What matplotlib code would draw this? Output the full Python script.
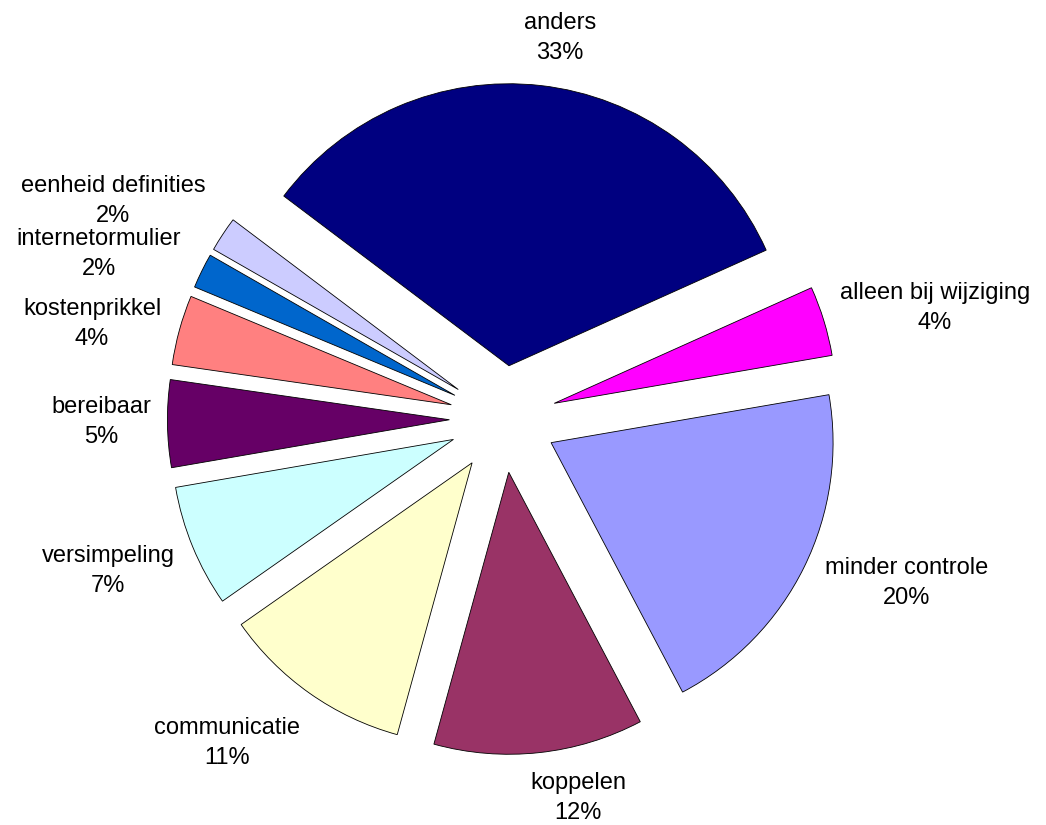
import matplotlib
matplotlib.use("Agg")
import matplotlib.pyplot as plt

# Categories in clockwise order, starting from the large "anders" slice
categories = [
    "anders", "alleen bij wijziging", "minder controle", "koppelen",
    "communicatie", "versimpeling", "bereibaar", "kostenprikkel",
    "internetormulier", "eenheid definities",
]
percentages = [33, 4, 20, 12, 11, 7, 5, 4, 2, 2]
colors = [
    "#000080", "#FF00FF", "#9999FF", "#993366", "#FFFFCC",
    "#CCFFFF", "#660066", "#FF8080", "#0066CC", "#CCCCFF",
]

# Label anchor points (pixel coordinates from the top-left corner)
label_xy = [
    (560, 38), (935, 308), (907, 583), (578, 798), (227, 743),
    (108, 571), (101, 422), (92, 324), (99, 254), (113, 201),
]

W, H = 1046, 825
cx, cy = 503, 419      # pie centre in pixels
r_px = 282             # pie radius in pixels

plt.rcParams["font.family"] = ["Liberation Sans", "DejaVu Sans"]

fig = plt.figure(figsize=(W / 100, H / 100), dpi=100)
ax = fig.add_axes([0, 0, 1, 1])

ax.pie(
    percentages,
    colors=colors,
    startangle=143,
    counterclock=False,
    explode=[0.19] * len(percentages),
    radius=1.0,
    wedgeprops=dict(edgecolor="black", linewidth=0.6),
)

ax.set_xlim(-cx / r_px, (W - cx) / r_px)
ax.set_ylim(-(H - cy) / r_px, cy / r_px)
ax.set_aspect("equal", adjustable="box")
ax.axis("off")

for name, pct, (lx, ly) in zip(categories, percentages, label_xy):
    ax.text(lx / W, 1 - ly / H, f"{name}\n{pct}%", transform=ax.transAxes,
            ha="center", va="center", fontsize=17, linespacing=1.42,
            color="black")

fig.savefig("out.png", dpi=100, facecolor="white")
